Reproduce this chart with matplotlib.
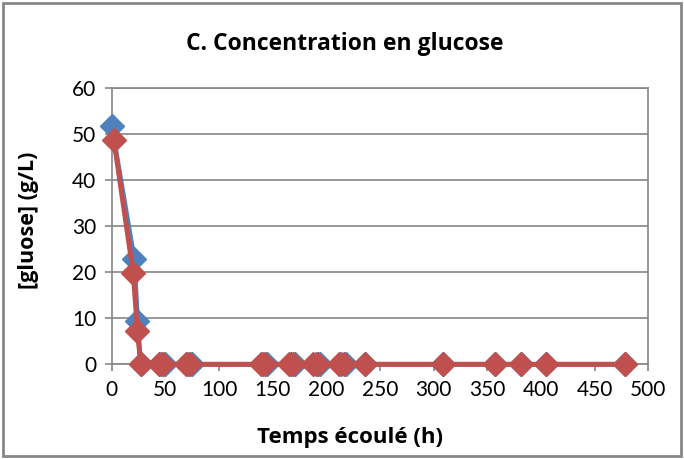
import matplotlib
matplotlib.use("Agg")
import matplotlib.pyplot as plt
from matplotlib.patches import Rectangle

# Temps écoulé (h) et glucose (g/L) pour les deux séries
temps_a = [0, 21, 24, 27, 46, 50, 71, 75, 141, 145, 167, 171, 190, 194,
           214, 218, 236, 309, 357, 381, 405, 478]
glucose_a = [51.8, 22.8, 9.5, 0, 0, 0, 0, 0, 0, 0, 0, 0, 0, 0,
             0, 0, 0, 0, 0, 0, 0, 0]
temps_b = [2, 20, 24, 27, 44, 48, 69, 73, 139, 143, 165, 169, 188, 192,
           212, 216, 236, 309, 357, 381, 405, 478]
glucose_b = [48.8, 19.9, 7.2, 0, 0, 0, 0, 0, 0, 0, 0, 0, 0, 0,
             0, 0, 0, 0, 0, 0, 0, 0]

x_ticks = list(range(0, 501, 50))
y_ticks = list(range(0, 61, 10))

BLEU = "#4F81BD"
ROUGE = "#C0504D"
GRIS = "#868686"
GRAS = ["Open Sans", "DejaVu Sans"]

plt.rcParams["font.family"] = ["Lato", "DejaVu Sans"]

fig = plt.figure(figsize=(6.84, 4.59), dpi=100)
ax = fig.add_axes([0.1633, 0.2063, 0.7845, 0.6013])

ax.plot(temps_a, glucose_a, color=BLEU, lw=3.5, marker="D", ms=12,
        solid_joinstyle="round", zorder=3)
ax.plot(temps_b, glucose_b, color=ROUGE, lw=3.5, marker="D", ms=12,
        solid_joinstyle="round", zorder=4)

ax.set_xlim(0, 500)
ax.set_ylim(0, 60)
ax.set_xticks(x_ticks)
ax.set_yticks(y_ticks)
ax.grid(axis="y", color=GRIS, lw=1.2)
ax.set_axisbelow(True)
for sp in ax.spines.values():
    sp.set_color(GRIS)
    sp.set_linewidth(1.2)
ax.tick_params(colors=GRIS, labelcolor="black", labelsize=15, length=5,
               width=1.2, direction="out", pad=6)
for line in ax.get_lines():
    line.set_clip_on(False)

# titres placés en coordonnées de la figure
fig.text(0.512, 0.046, "Temps écoulé (h)", ha="center", va="center",
         fontsize=16, fontweight="bold", family=GRAS)
fig.text(0.042, 0.521, "[gluose] (g/L)", ha="center", va="center",
         rotation=90, fontsize=15.5, fontweight="bold", family=GRAS)
fig.text(0.504, 0.904, "C. Concentration en glucose", ha="center", va="center",
         fontsize=16.5, fontweight="bold", family=GRAS)

# cadre du graphique
fig.patches.append(Rectangle((0.004, 0.006), 0.992, 0.988, transform=fig.transFigure,
                             fill=False, edgecolor=GRIS, lw=2))

fig.savefig("out.png", dpi=100)
